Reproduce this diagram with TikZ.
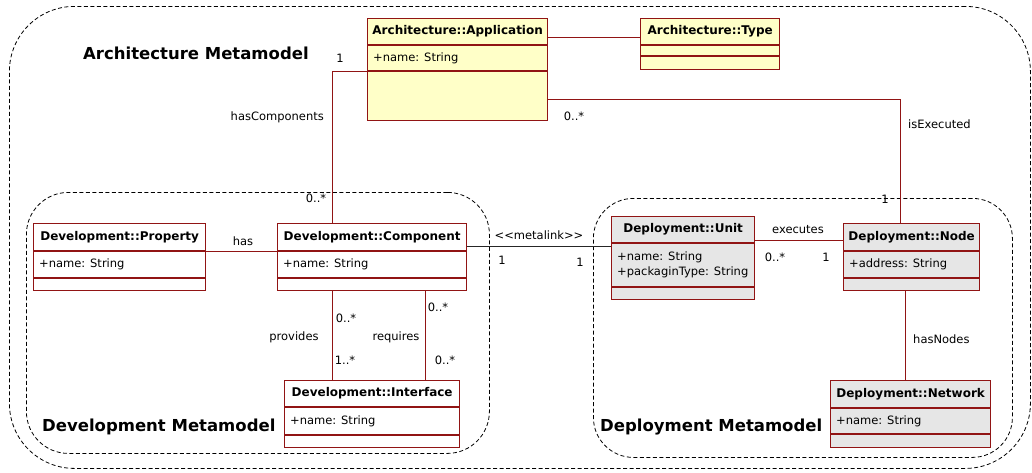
\documentclass[tikz,border=0pt]{standalone}
\usepackage{fontspec}
\setmainfont{DejaVu Sans}
\usetikzlibrary{calc}
\definecolor{bord}{RGB}{145,20,20}
\definecolor{archfill}{RGB}{255,255,200}
\definecolor{depfill}{RGB}{230,230,230}
\tikzset{
  cls/.style={draw=bord, line width=1.3pt, inner sep=0pt, anchor=north west},
  divider/.style={draw=bord, line width=1.3pt},
  assoc/.style={draw=bord, line width=0.9pt},
  meta/.style={draw=black!85, line width=0.9pt},
  pkg/.style={draw=black, dash pattern=on 4pt off 2.5pt, line width=0.8pt, inner sep=0pt, anchor=north west},
  lbl/.style={font=\fontsize{11.5}{15}\selectfont, inner sep=0pt, text=black},
  ttl/.style={font=\fontsize{12}{14}\selectfont\bfseries, inner sep=0pt},
  big/.style={font=\fontsize{16.5}{20}\selectfont\bfseries, inner sep=0pt, anchor=west},
}
% name, fill, x, y, w, h, d1, d2, title
\newcommand\umlclass[9]{%
  \node[cls, fill=#2, minimum width=#5pt, minimum height=#6pt] (#1) at (#3,#4) {};
  \draw[divider] ([yshift=-#7pt]#1.north west) -- ([yshift=-#7pt]#1.north east);
  \draw[divider] ([yshift=-#8pt]#1.north west) -- ([yshift=-#8pt]#1.north east);
  \node[ttl] (#1-t) at ([yshift={-0.5*#7pt}]#1.north) {#9};
}
% name, d1, d2, text
\newcommand\umlattr[4]{%
  \node[lbl, anchor=west, align=left] (#1-a) at ([xshift=6pt,yshift={-0.5*#2pt-0.5*#3pt}]#1.north west) {#4};
}
\begin{document}
\begin{tikzpicture}[x=1pt,y=-1pt]
\useasboundingbox (0,0) rectangle (1032,472);
% packages
\node[pkg, rounded corners=65pt, minimum width=1021pt, minimum height=462pt] (archpkg) at (9,6) {};
\node[pkg, rounded corners=42pt, minimum width=463pt, minimum height=261pt] (devpkg) at (26,192) {};
\node[pkg, rounded corners=40pt, minimum width=419pt, minimum height=259pt] (deppkg) at (593,198) {};
% classes
\umlclass{app}{archfill}{367}{18}{180}{102}{27}{53}{Architecture::Application}
\umlattr{app}{27}{53}{+name: String}
\umlclass{type}{archfill}{640}{18}{139}{51}{27}{38}{Architecture::Type}
\umlclass{prop}{white}{33}{223}{172}{67}{28}{55}{Development::Property}
\umlattr{prop}{28}{55}{+name: String}
\umlclass{comp}{white}{277}{223}{189}{67}{28}{55}{Development::Component}
\umlattr{comp}{28}{55}{+name: String}
\umlclass{iface}{white}{284}{380}{175}{67}{27}{55}{Development::Interface}
\umlattr{iface}{27}{55}{+name: String}
\umlclass{unit}{depfill}{611}{216}{143}{83}{27}{71}{Deployment::Unit}
\umlattr{unit}{27}{71}{+name: String\\+packaginType: String}
\umlclass{node}{depfill}{843}{223}{136}{67}{28}{55}{Deployment::Node}
\umlattr{node}{28}{55}{+address: String}
\umlclass{net}{depfill}{830}{380}{160}{67}{28}{54}{Deployment::Network}
\umlattr{net}{28}{54}{+name: String}
% connectors
\draw[assoc] ([yshift=-19pt]app.north east) -- ([yshift=-19pt]type.north west);
\draw[assoc] ([yshift=-53pt]app.north west) -| ([xshift=55pt]comp.north west);
\draw[assoc] ([yshift=-81pt]app.north east) -| ([xshift=57pt]node.north west);
\draw[assoc] ([yshift=-28pt]prop.north east) -- ([yshift=-28pt]comp.north west);
\draw[assoc] ([xshift=55pt]comp.south west) -- ([xshift=48pt]iface.north west);
\draw[assoc] ([xshift=148pt]comp.south west) -- ([xshift=141pt]iface.north west);
\draw[meta] ([yshift=-23pt]comp.north east) -- ([yshift=-30pt]unit.north west);
\draw[assoc] ([yshift=-24pt]unit.north east) -- ([yshift=-17pt]node.north west);
\draw[assoc] ([xshift=62pt]node.south west) -- ([xshift=75pt]net.north west);
% package titles
\node[big] (archlbl) at (83,53) {Architecture Metamodel};
\node[big] (devlbl) at (42,427) {Development Metamodel};
\node[big] (deplbl) at (600,427) {Deployment Metamodel};
% association labels
\node[lbl] (m1) at (340,58) {1};
\node[lbl, anchor=east] (hc) at (324,117) {hasComponents};
\node[lbl] (m2) at (316,198) {0..*};
\node[lbl] (m3) at (574,116) {0..*};
\node[lbl, anchor=west] (ie) at (908,124) {isExecuted};
\node[lbl] (m4) at (885,199) {1};
\node[lbl] (has) at (243,241) {has};
\node[lbl] (m5) at (346,318) {0..*};
\node[lbl] (prov) at (294,337) {provides};
\node[lbl] (m6) at (345,360) {1..*};
\node[lbl] (req) at (396,337) {requires};
\node[lbl] (m7) at (438,307) {0..*};
\node[lbl] (m8) at (445,360) {0..*};
\node[lbl] (ml) at (539,235) {<{}<metalink>{}>};
\node[lbl] (m9) at (502,260) {1};
\node[lbl] (m10) at (580,262) {1};
\node[lbl] (ex) at (798,230) {executes};
\node[lbl] (m11) at (775,257) {0..*};
\node[lbl] (m12) at (826,257) {1};
\node[lbl, anchor=west] (hn) at (913,339) {hasNodes};
\end{tikzpicture}
\end{document}
